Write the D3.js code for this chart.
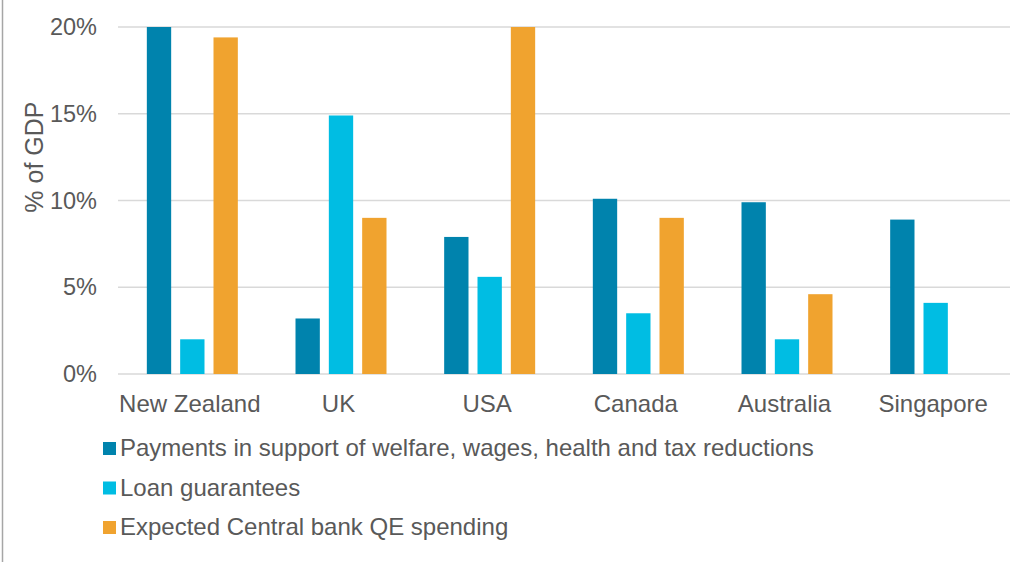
<!DOCTYPE html>
<html>
<head>
<meta charset="utf-8">
<script src="https://cdn.jsdelivr.net/npm/d3@7"></script>
<style>
  body { margin: 0; background: #fff; }
  svg { display: block; font-family: "Liberation Sans", Arial, sans-serif; }
</style>
</head>
<body>
<div id="chart"></div>
<script>
const countries = ["New Zealand", "UK", "USA", "Canada", "Australia", "Singapore"]
const seriesNames = [
  "Payments in support of welfare, wages, health and tax reductions",
  "Loan guarantees",
  "Expected Central bank QE spending"
]
const payments = [20, 3.2, 7.9, 10.1, 9.9, 8.9]
const loans = [2.0, 14.9, 5.6, 3.5, 2.0, 4.1]
const qe = [19.4, 9.0, 20, 9.0, 4.6, 0]
const yTicks = [0, 5, 10, 15, 20]
const colors = ["#0083ad", "#00bde3", "#f0a32f"]

const W = 1029, H = 562
const margin = { top: 27, left: 118, right: 19, bottom: 188 }
const width = W - margin.left - margin.right
const height = H - margin.top - margin.bottom

const svg = d3.select("#chart").append("svg").attr("width", W).attr("height", H)

// thin frame line on the left edge
svg.append("line").attr("x1", 2.5).attr("x2", 2.5).attr("y1", 0).attr("y2", H)
  .attr("stroke", "#a6a6a6").attr("stroke-width", 1.5)

const g = svg.append("g").attr("transform", `translate(${margin.left},${margin.top})`)

const x = d3.scaleBand().domain(countries).range([0, width]).paddingInner(0).paddingOuter(0)
const x1 = d3.scaleBand().domain([0, 1, 2]).range([0, 91]).paddingInner(0.27)
const y = d3.scaleLinear().domain([0, 20]).range([height, 0])

// gridlines
g.selectAll(".grid").data(yTicks).join("line")
  .attr("x1", 0).attr("x2", width)
  .attr("y1", d => y(d)).attr("y2", d => y(d))
  .attr("stroke", "#d9d9d9").attr("stroke-width", 1.5)

// y labels
g.selectAll(".ylab").data(yTicks).join("text")
  .attr("x", -21).attr("y", d => y(d)).attr("dy", "0.35em")
  .attr("text-anchor", "end").attr("font-size", 23.5).attr("fill", "#595959")
  .text(d => d + "%")

g.append("text")
  .attr("transform", `translate(${-84},${y(12.5)}) rotate(-90)`)
  .attr("text-anchor", "middle").attr("dy", "0.35em")
  .attr("font-size", 25).attr("fill", "#595959")
  .text("% of GDP")

const series = [payments, loans, qe]
const rows = countries.map((c, i) => series.map((s, k) => ({ c, k, v: s[i] })))

const grp = g.selectAll(".grp").data(rows).join("g")
  .attr("transform", (d, i) => `translate(${x(countries[i]) + (x.bandwidth() - 91) / 2},0)`)

grp.selectAll("rect").data(d => d.filter(e => e.v > 0)).join("rect")
  .attr("x", d => x1(d.k))
  .attr("width", x1.bandwidth())
  .attr("y", d => y(Math.min(d.v, 20)))
  .attr("height", d => height - y(Math.min(d.v, 20)))
  .attr("fill", d => colors[d.k])

// category labels
g.selectAll(".xlab").data(countries).join("text")
  .attr("x", d => x(d) + x.bandwidth() / 2 - 2.5).attr("y", height + 30)
  .attr("dy", "0.35em").attr("text-anchor", "middle")
  .attr("font-size", 24).attr("fill", "#595959")
  .text(d => d)

// legend
const leg = svg.append("g").attr("transform", "translate(103,448)")
const li = leg.selectAll("g").data(seriesNames).join("g")
  .attr("transform", (d, i) => `translate(0,${i * 39.5})`)
li.append("rect").attr("x", 0).attr("y", -6).attr("width", 13).attr("height", 13)
  .attr("fill", (d, i) => colors[i])
li.append("text").attr("x", 17).attr("y", 0).attr("dy", "0.35em")
  .attr("font-size", 24).attr("fill", "#595959")
  .text(d => d)
</script>
</body>
</html>
